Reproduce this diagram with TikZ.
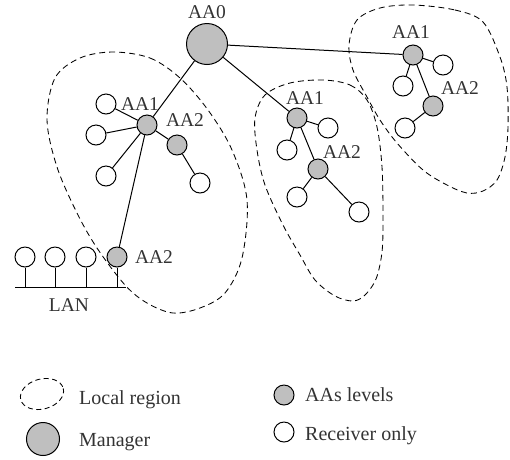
\documentclass[tikz,border=0pt]{standalone}
\usepackage{fontspec}
\setmainfont{Liberation Serif}
\begin{document}
\begin{tikzpicture}[x=1pt,y=-1pt,
  recv/.style={circle,draw,fill=white,minimum size=20pt,inner sep=0pt,line width=1pt},
  aa/.style={recv,fill=gray!50},
  mgr/.style={aa,minimum size=41pt},
  lbl/.style={font=\fontsize{19.5}{21}\selectfont,text=black!80,inner sep=0pt},
  lgt/.style={lbl,font=\fontsize{20}{22}\selectfont,anchor=base west},
  region/.style={draw,dash pattern=on 6pt off 4pt,line width=0.85pt},
  link/.style={line width=1pt}
]
\useasboundingbox (0,0) rectangle (510,459);

% local regions
\draw[region] plot[smooth cycle,tension=0.55] coordinates {
  (113,52) (150,58) (180,78) (208,110) (232,150) (247,200) (242,258) (225,293)
  (200,308) (173,313) (147,303) (125,285) (97,248) (77,213) (57,167) (47,120)
  (55,78) (80,58)};
\draw[region] plot[smooth cycle,tension=0.55] coordinates {
  (323,80) (350,85) (367,100) (377,127) (382,167) (383,217) (382,252) (376,279)
  (365,295) (353,301) (335,296) (315,280) (300,255) (283,225) (265,185) (257,150)
  (255,118) (265,95) (290,83)};
\draw[region] plot[smooth cycle,tension=0.55] coordinates {
  (413,5) (455,10) (483,22) (500,57) (507,87) (508,127) (505,157) (497,180)
  (483,191) (467,193) (447,185) (423,170) (397,143) (380,120) (367,97) (353,70)
  (349,45) (357,20) (380,8)};

% nodes
\node[mgr] (aa0) at (207,44) {};
\node[lbl] (aa0l) at (207,12) {AA0};

\node[aa] (l1) at (147,125) {};
\node[lbl] (l1l) at (140,104) {AA1};
\node[aa] (l2) at (177,145) {};
\node[lbl] (l2l) at (185,120) {AA2};
\node[recv] (lw1) at (106,104) {};
\node[recv] (lw2) at (96,135) {};
\node[recv] (lw3) at (106,176) {};
\node[recv] (lw4) at (200,183) {};
\node[aa] (l3) at (117,257) {};
\node[lbl] (l3l) at (154,257) {AA2};

\node[recv] (lan1) at (25,257) {};
\node[recv] (lan2) at (55,257) {};
\node[recv] (lan3) at (86,257) {};
\coordinate (lanL) at (15,287);
\coordinate (lanR) at (126,287);
\node[lbl] (lanl) at (69,305) {LAN};

\node[aa] (m1) at (297,118) {};
\node[lbl] (m1l) at (305,98) {AA1};
\node[recv] (mw1) at (328,128) {};
\node[recv] (mw2) at (287,150) {};
\node[aa] (m2) at (318,169) {};
\node[lbl] (m2l) at (342,152) {AA2};
\node[recv] (mw3) at (297,197) {};
\node[recv] (mw4) at (359,212) {};

\node[aa] (r1) at (413,55) {};
\node[lbl] (r1l) at (411,32) {AA1};
\node[recv] (rw1) at (443,65) {};
\node[recv] (rw2) at (403,86) {};
\node[aa] (r2) at (433,106) {};
\node[lbl] (r2l) at (460,88) {AA2};
\node[recv] (rw3) at (405,128) {};

% connectors
\draw[link] (aa0) -- (l1);
\draw[link] (aa0) -- (m1);
\draw[link] (aa0) -- (r1);
\draw[link] (l1) -- (lw1);
\draw[link] (l1) -- (lw2);
\draw[link] (l1) -- (lw3);
\draw[link] (l1) -- (l2);
\draw[link] (l2) -- (lw4);
\draw[link] (l1) -- (l3);
\draw[link] (m1) -- (mw1);
\draw[link] (m1) -- (mw2);
\draw[link] (m1) -- (m2);
\draw[link] (m2) -- (mw3);
\draw[link] (m2) -- (mw4);
\draw[link] (r1) -- (rw1);
\draw[link] (r1) -- (rw2);
\draw[link] (r1) -- (r2);
\draw[link] (r2) -- (rw3);
\draw[link] (lanL) -- (lanR);
\foreach \n in {lan1,lan2,lan3,l3} \draw[link] (\n.south) -- (\n.south |- lanL);

% legend
\draw[region,dash pattern=on 5pt off 3.5pt] (42,394) ellipse[x radius=22,y radius=15,rotate=15];
\node[lgt] (lg1) at (79,404) {Local region};
\node[mgr,minimum size=33pt] (lgm) at (43,439) {};
\node[lgt] (lg2) at (79,446) {Manager};
\node[aa] (lga) at (284,395) {};
\node[lgt] (lg3) at (305,401) {AAs levels};
\node[recv] (lgr) at (284,432) {};
\node[lgt] (lg4) at (305,440) {Receiver only};
\end{tikzpicture}
\end{document}
